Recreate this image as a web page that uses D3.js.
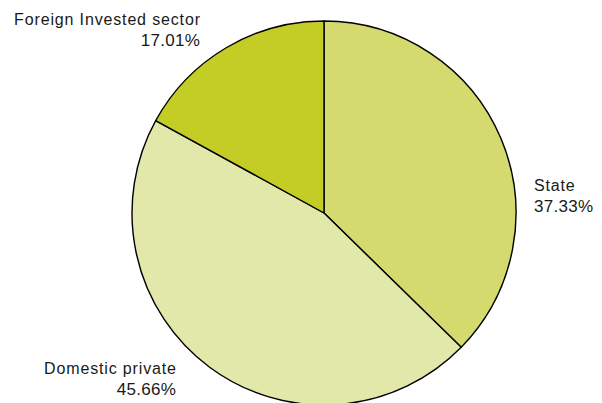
<!DOCTYPE html>
<html>
<head>
<meta charset="utf-8">
<script src="https://cdn.jsdelivr.net/npm/d3@7"></script>
<style>
  body { margin: 0; background: #fff; }
  svg text { font-family: "Liberation Sans", Arial, sans-serif; fill: #1a1a1a; }
  .lbl { font-size: 16px; letter-spacing: 0.85px; }
  .pct { font-size: 17px; letter-spacing: 0.3px; }
</style>
</head>
<body>
<div id="chart"></div>
<script>
const categories = ['State', 'Domestic private', 'Foreign Invested sector'];
const values = [37.33, 45.66, 17.01];
const colors = ['#d4da6e', '#e2e7aa', '#c4cd26'];

const width = 602, height = 403;
const cx = 324, cy = 213, radius = 192;

const svg = d3.select('#chart')
  .append('svg')
  .attr('width', width)
  .attr('height', height);

const data = categories.map((c, i) => ({ label: c, value: values[i], color: colors[i] }));

const pie = d3.pie()
  .value(d => d.value)
  .sort(null);

const arc = d3.arc()
  .innerRadius(0)
  .outerRadius(radius);

const g = svg.append('g')
  .attr('transform', `translate(${cx},${cy})`);

const arcs = pie(data);

g.selectAll('path')
  .data(arcs)
  .enter()
  .append('path')
  .attr('d', arc)
  .attr('fill', d => d.data.color)
  .attr('stroke', '#000')
  .attr('stroke-width', 1.4)
  .attr('stroke-linejoin', 'round');

// label placement per slice
const labelPos = {
  'State': { x: 534, y: 191, anchor: 'start' },
  'Domestic private': { x: 176, y: 374, anchor: 'end' },
  'Foreign Invested sector': { x: 200, y: 25, anchor: 'end' }
};

arcs.forEach(a => {
  const p = labelPos[a.data.label];
  const t = svg.append('text')
    .attr('text-anchor', p.anchor);
  t.append('tspan')
    .attr('class', 'lbl')
    .attr('x', p.anchor === 'end' ? p.x + 0.85 : p.x)
    .attr('y', p.y)
    .text(a.data.label);
  t.append('tspan')
    .attr('class', 'pct')
    .attr('x', p.anchor === 'end' ? p.x + 0.3 : p.x)
    .attr('y', p.y + 20.5)
    .text(a.data.value.toFixed(2) + '%');
});
</script>
</body>
</html>
